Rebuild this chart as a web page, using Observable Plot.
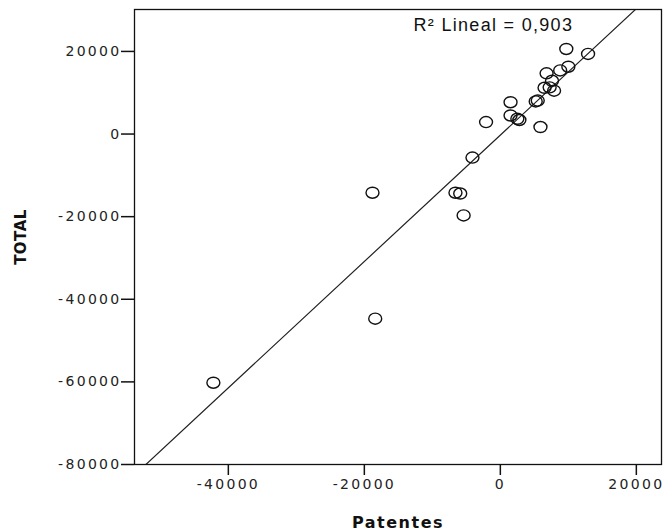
<!DOCTYPE html>
<html>
<head>
<meta charset="utf-8">
<script src="https://cdn.jsdelivr.net/npm/d3@7"></script>
<script src="https://cdn.jsdelivr.net/npm/@observablehq/plot@0.6"></script>
<style>
  html, body { margin: 0; padding: 0; background: #fff; }
  #chart svg { display: block; }
  g[aria-label="x-axis tick label"] text,
  g[aria-label="y-axis tick label"] text { letter-spacing: 2.3px; }
</style>
</head>
<body>
<div id="chart"></div>
<script>
// Data (Patentes vs TOTAL)
const patentes = [-42200, -18800, -18400, -6600, -5900, -5400, -4100, -2100,
  1500, 1500, 2500, 2800, 5900, 5500, 5200, 6500, 7250, 7900, 7600, 6800,
  8800, 10000, 9700, 12900];
const total = [-60200, -14200, -44700, -14200, -14400, -19700, -5700, 2900,
  7700, 4500, 3700, 3400, 1700, 8100, 7900, 11200, 11300, 10500, 12900, 14700,
  15400, 16300, 20600, 19400];

// Linear fit shown in the reference
const fitSlope = 1.53;
const fitIntercept = -250;
const r2Label = "R² Lineal = 0,903";
const xTitle = "Patentes";
const yTitle = "TOTAL";

const xTicks = [-40000, -20000, 0, 20000];
const yTicks = [-80000, -60000, -40000, -20000, 0, 20000];
const xDomain = [-53800, 23700];
const yDomain = [-80000, 30150];

const points = patentes.map((p, i) => ({x: p, y: total[i]}));
const fit = xDomain.map(x => ({x, y: fitSlope * x + fitIntercept}));

// slightly wide open circle, as in the SPSS output
const ellipse = {
  draw(ctx, size) {
    const r = Math.sqrt(size / Math.PI);
    const rx = r * 1.08, ry = r * 0.92, k = 0.5523;
    ctx.moveTo(rx, 0);
    ctx.bezierCurveTo(rx, ry * k, rx * k, ry, 0, ry);
    ctx.bezierCurveTo(-rx * k, ry, -rx, ry * k, -rx, 0);
    ctx.bezierCurveTo(-rx, -ry * k, -rx * k, -ry, 0, -ry);
    ctx.bezierCurveTo(rx * k, -ry, rx, -ry * k, rx, 0);
    ctx.closePath();
  }
};

const chart = Plot.plot({
  width: 665,
  height: 532,
  marginLeft: 134,
  marginRight: 4,
  marginTop: 9,
  marginBottom: 68,
  style: {fontFamily: "'DejaVu Sans', sans-serif", fontSize: "14px", color: "#222", background: "#fff"},
  x: {domain: xDomain},
  y: {domain: yDomain},
  marks: [
    Plot.line(fit, {x: "x", y: "y", stroke: "#222", strokeWidth: 1.2, clip: true}),
    Plot.dot(points, {x: "x", y: "y", r: 6, symbol: ellipse, stroke: "#111", strokeWidth: 1.4, fill: "none"}),
    Plot.frame({stroke: "#111", strokeWidth: 1.3}),
    Plot.axisX({ticks: xTicks, tickFormat: d => String(d), tickSize: 11, tickPadding: 4, label: null, stroke: "#111", strokeWidth: 1.5}),
    Plot.axisY({ticks: yTicks, tickFormat: d => String(d), tickSize: 13, tickPadding: 0, label: null, stroke: "#111", strokeWidth: 1.5}),
    Plot.text([r2Label], {frameAnchor: "top-left", text: d => d, dx: 279, dy: 16, textAnchor: "start", lineAnchor: "middle",
      fontFamily: "'Liberation Sans', Arial, sans-serif", fontSize: 18, fill: "#111"}),
    Plot.text([xTitle], {frameAnchor: "bottom", text: d => d, dy: 58, textAnchor: "middle", lineAnchor: "middle",
      fontWeight: "bold", fontSize: 16, fill: "#111"}),
    Plot.text([yTitle], {frameAnchor: "left", text: d => d, dx: -113, rotate: -90, textAnchor: "middle", lineAnchor: "middle",
      fontWeight: "bold", fontSize: 15, fill: "#111"})
  ]
});
// letter spacing like the SPSS rendering
d3.select(chart).selectAll("text").each(function() {
  const t = this.textContent;
  if (t === xTitle) this.style.letterSpacing = "1.5px";
  else if (t === yTitle) this.style.letterSpacing = "0.5px";
  else if (t === r2Label) this.style.letterSpacing = "1.3px";
});
document.getElementById("chart").appendChild(chart);
</script>
</body>
</html>
